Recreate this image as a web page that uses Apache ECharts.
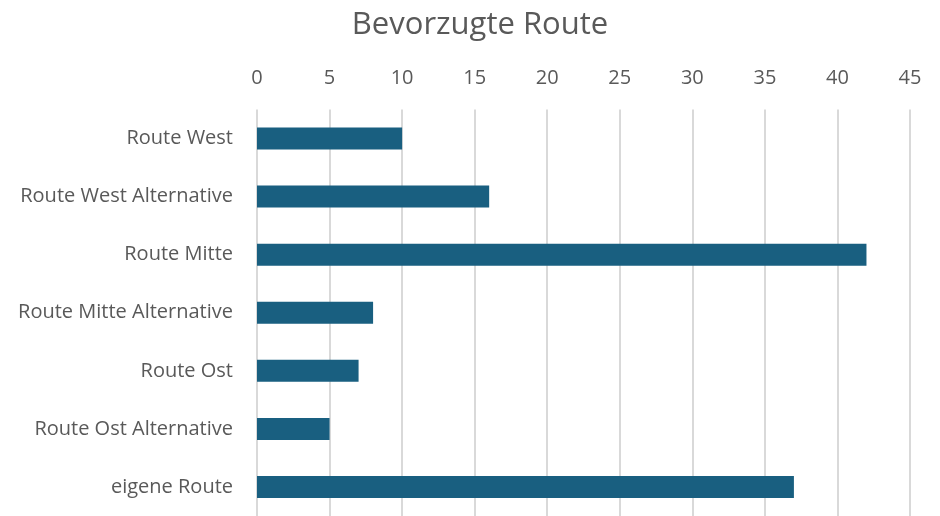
<!DOCTYPE html>
<html><head><meta charset="utf-8">
<script src="https://cdn.jsdelivr.net/npm/echarts@6/dist/echarts.min.js"></script>
<style>html,body{margin:0;padding:0;background:#fff}#c{width:940px;height:516px}</style>
</head><body><div id="c"></div>
<script>
const title = 'Bevorzugte Route';
const categories = ['Route West','Route West Alternative','Route Mitte','Route Mitte Alternative','Route Ost','Route Ost Alternative','eigene Route'];
const values = [10,16,42,8,7,5,37];
const xTicks = {min:0,max:45,interval:5};

const chart = echarts.init(document.getElementById('c'));
chart.setOption({
  animation:false,
  title:{text:title,left:475,top:5,textAlign:'center',textStyle:{fontFamily:'Open Sans',fontSize:31,fontWeight:'normal',color:'#595959'}},
  grid:{left:257,top:109.5,width:653,height:410,containLabel:false},
  xAxis:{type:'value',position:'top',min:xTicks.min,max:xTicks.max,interval:xTicks.interval,
    axisLine:{show:false},axisTick:{show:false},
    axisLabel:{margin:21,fontFamily:'Open Sans',fontSize:20,color:'#595959'},
    splitLine:{lineStyle:{color:'#d9d9d9',width:2}}},
  yAxis:{type:'category',data:categories,inverse:true,
    axisLine:{show:false},axisTick:{show:false},
    axisLabel:{margin:24,fontFamily:'Open Sans',fontSize:20,color:'#595959'}},
  series:[{type:'bar',data:values,barWidth:22,itemStyle:{color:'#195f80'}}]
});
</script></body></html>
